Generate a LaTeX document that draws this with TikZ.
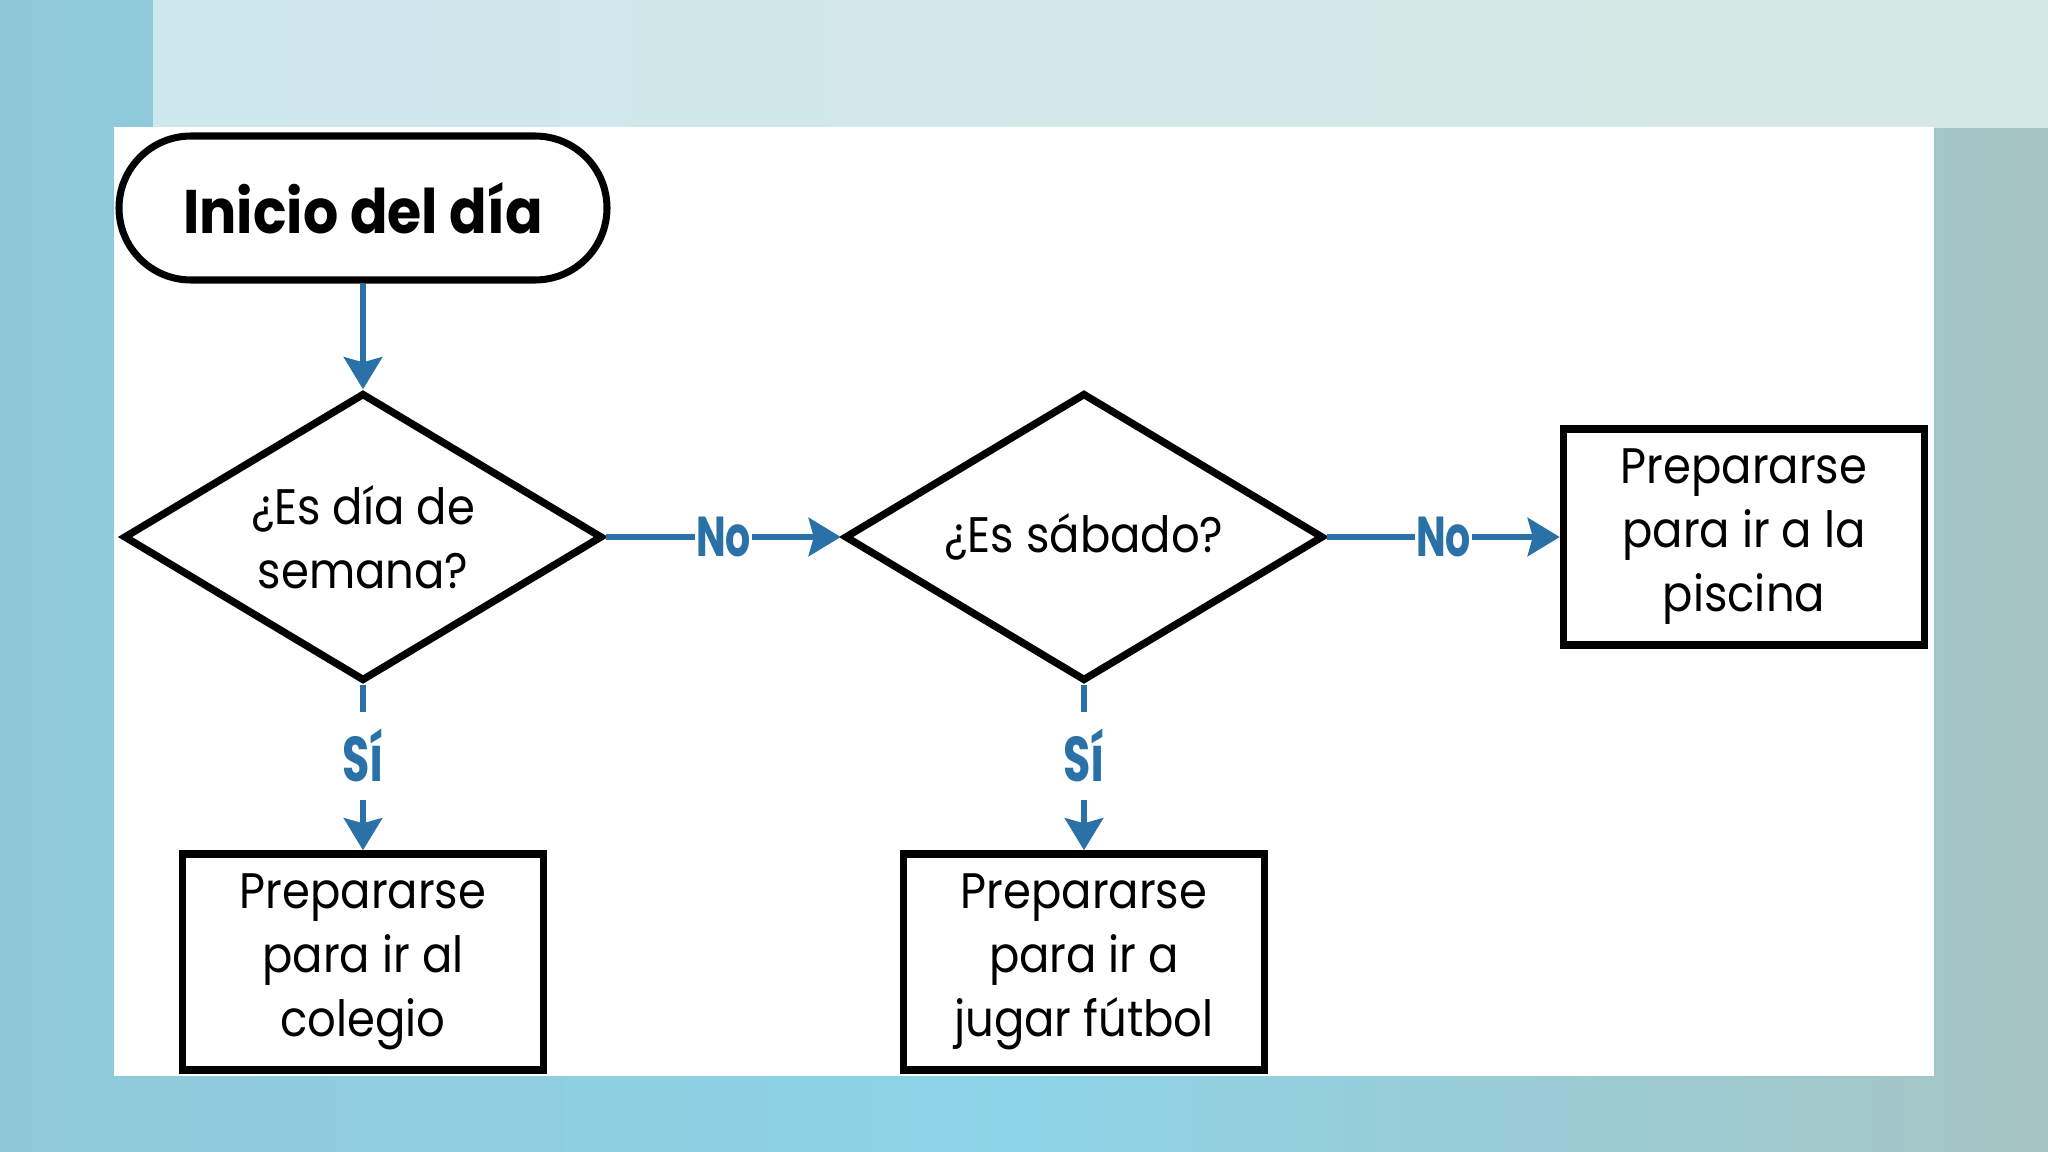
\documentclass[tikz,border=0pt]{standalone}
\usepackage{fontspec}
\setmainfont{Poppins}[FakeStretch=0.9]
\usetikzlibrary{shapes.geometric, arrows.meta, positioning}
\definecolor{flowblue}{HTML}{2A71A8}
\definecolor{skyleft}{HTML}{8FC9D9}
\definecolor{skymid}{HTML}{8DD3E7}
\definecolor{skyright}{HTML}{A6C4C2}
\definecolor{bandleft}{HTML}{CFE8EE}
\definecolor{bandright}{HTML}{D6E8E4}

\begin{document}
\begin{tikzpicture}[x=1cm, y=-1cm,
  every node/.style={font=\fontsize{14.2}{18.2}\selectfont, align=center},
  startbox/.style={draw, line width=2pt, rounded corners=0.72cm, minimum width=4.88cm, minimum height=1.44cm,
    font=\fontsize{17.5}{20}\selectfont\bfseries},
  askbox/.style={draw, diamond, line width=2.1pt, inner sep=0pt, aspect=1.66, minimum width=4.79cm, minimum height=2.88cm},
  taskbox/.style={draw, rectangle, line width=2.1pt, minimum width=3.61cm, minimum height=2.16cm},
  flow/.style={draw=flowblue, line width=1.9pt, -{Stealth[length=0.32cm, width=0.38cm, inset=0.05cm]}},
  answer/.style={fill=white, text=flowblue, inner sep=0.5pt, xscale=0.78, font=\fontsize{16}{18}\selectfont\bfseries}]
% background
\shade[left color=skyleft, right color=skyright, middle color=skymid] (0,0) rectangle (20.48,11.52);
\shade[left color=bandleft, right color=bandright] (1.53,0) rectangle (20.48,1.28);
\fill[white] (1.14,1.27) rectangle (19.34,10.76);
% nodes
\node[startbox] (start) at (3.63,2.08) {Inicio del día};
\node[askbox] (week) at (3.63,5.37) {¿Es día de\\semana?};
\node[askbox] (sat) at (10.84,5.37) {¿Es sábado?};
\node[taskbox] (pool) at (17.44,5.37) {Prepararse\\para ir a la\\piscina};
\node[taskbox] (school) at (3.63,9.62) {Prepararse\\para ir al\\colegio};
\node[taskbox] (soccer) at (10.84,9.62) {Prepararse\\para ir a\\jugar fútbol};
% connectors
\draw[flow] (start) -- (week);
\draw[flow] (week) -- node[answer]{No} (sat);
\draw[flow] (sat) -- node[answer]{No} (pool);
\draw[flow] (week) -- node[answer, inner ysep=5pt, pos=0.43, font=\fontsize{18}{20}\selectfont\bfseries]{Sí} (school);
\draw[flow] (sat) -- node[answer, inner ysep=5pt, pos=0.43, font=\fontsize{18}{20}\selectfont\bfseries]{Sí} (soccer);
\end{tikzpicture}
\end{document}
